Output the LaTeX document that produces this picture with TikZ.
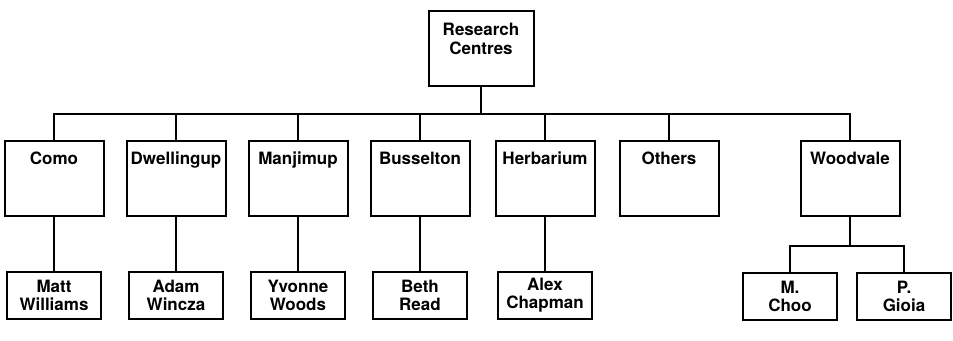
\documentclass[tikz,border=0pt]{standalone}
\usepackage{fontspec}
\setmainfont{TeX Gyre Heros}
\begin{document}
\begin{tikzpicture}[x=1pt,y=-1pt,line width=2pt,
  every node/.style={font=\bfseries\fontsize{17}{18}\selectfont},
  topbox/.style={draw,minimum width=105pt,inner sep=0pt,text height=24pt,text depth=51pt},
  centrebox/.style={draw,minimum width=99pt,inner sep=0pt,text height=23pt,text depth=52pt},
  staffbox/.style={draw,align=center,minimum width=94pt,minimum height=47pt,inner sep=0pt}]
  \useasboundingbox (0,0) rectangle (953,340);
  \node [topbox] (rc) at (481,48.5) {\begin{tabular}[t]{@{}c@{}}Research\\[1pt]Centres\end{tabular}};
  \foreach \name/\txt/\x in {como/Como/54,dwell/Dwellingup/176,manji/Manjimup/298,bussel/Busselton/420,herb/Herbarium/545,others/Others/669,wood/Woodvale/850}
    \node [centrebox] (\name) at (\x,178.5) {\txt};
  \foreach \name/\txt/\x in {williams/Matt\\Williams/54,wincza/Adam\\Wincza/176,woods/Yvonne\\Woods/298,read/Beth\\Read/420,chapman/Alex\\Chapman/545}
    \node [staffbox] (\name) at (\x,295.5) {\txt};
  \node [staffbox] (choo) at (790,296.5) {M.\\Choo};
  \node [staffbox] (gioia) at (904,296) {P.\\Gioia};
  \coordinate (bus) at (0,114);
  \coordinate (subbus) at (0,246);
  \draw (rc.south) -- (rc.south |- bus);
  \draw (como.north) -- (como.north |- bus) -- (wood.north |- bus) -- (wood.north);
  \foreach \name in {dwell,manji,bussel,herb,others}
    \draw (\name.north) -- (\name.north |- bus);
  \foreach \up/\down in {como/williams,dwell/wincza,manji/woods,bussel/read,herb/chapman}
    \draw (\up.south) -- (\down.north);
  \draw (wood.south) -- (wood.south |- subbus);
  \draw (choo.north) -- (choo.north |- subbus) -- (gioia.north |- subbus) -- (gioia.north);
\end{tikzpicture}
\end{document}
